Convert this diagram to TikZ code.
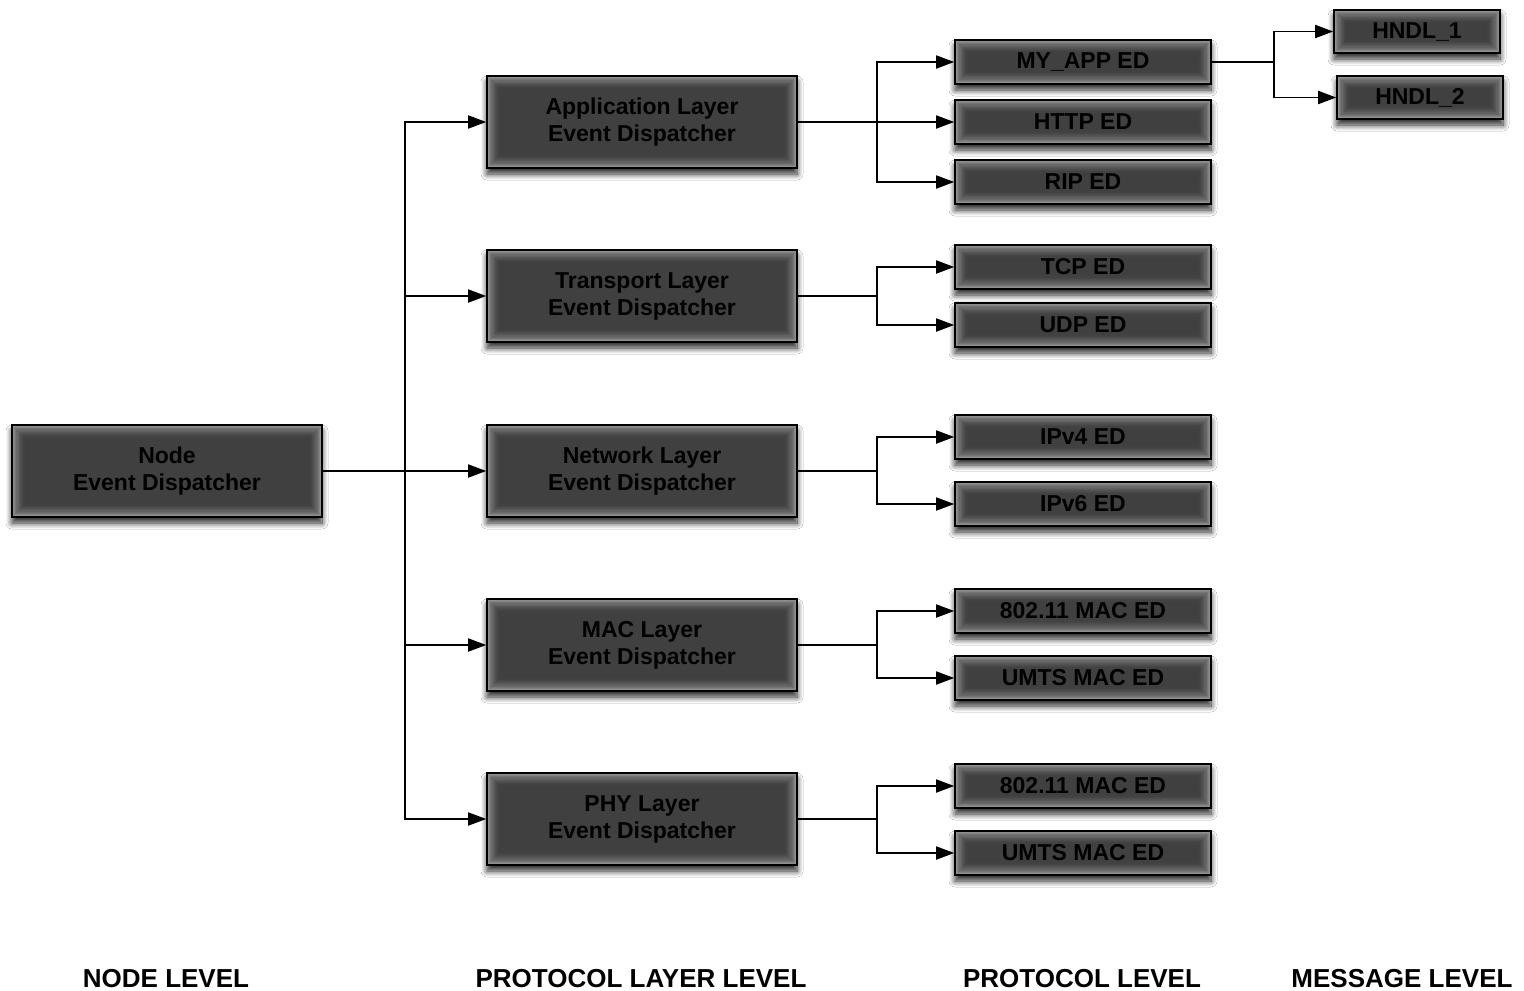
\documentclass[tikz,border=0pt]{standalone}
\usepackage{fontspec}
\setmainfont{Liberation Sans}
\usetikzlibrary{arrows.meta,shadows.blur,calc}

\tikzset{
  % dark box with a lighter glow along its inner edge
  edbox/.style={
    draw=black, line width=1.6pt, fill=black!56, text=black,
    font=\fontsize{23}{27}\selectfont\bfseries, align=center, inner sep=0pt,
    blur shadow={shadow xshift=0pt, shadow yshift=-6pt, shadow blur radius=6pt,
                 shadow blur steps=10, shadow opacity=85},
    path picture={
      \foreach \k in {0,...,12}{
        \pgfmathtruncatemacro\shade{75-36*(1-\k/12)^2}
        \fill[black!\shade]
          ($(path picture bounding box.south west)+(\k*1.1pt,\k*1.1pt)$) rectangle
          ($(path picture bounding box.north east)-(\k*1.1pt,\k*1.1pt)$);
      }
    }
  },
  layerbox/.style={edbox, minimum width=310pt, minimum height=92pt},
  protobox/.style={edbox, minimum width=256pt, minimum height=44pt},
  hndlbox/.style={edbox, minimum width=166pt, minimum height=43pt},
  link/.style={draw=black, line width=1.8pt, -{Triangle[length=18pt,width=13pt]}},
  levellabel/.style={font=\fontsize{26}{30}\selectfont\bfseries, anchor=base, text=black},
}

\begin{document}
\begin{tikzpicture}[x=1pt, y=-1pt]
  \useasboundingbox (0,0) rectangle (1524,991);
  \fill[white] (0,0) rectangle (1524,991);

  % node level
  \node[layerbox] (ned) at (167,471) {Node\\Event Dispatcher};

  % protocol layer level
  \node[layerbox] (app) at (642,122) {Application Layer\\Event Dispatcher};
  \node[layerbox] (trn) at (642,296) {Transport Layer\\Event Dispatcher};
  \node[layerbox] (net) at (642,471) {Network Layer\\Event Dispatcher};
  \node[layerbox] (mac) at (642,645) {MAC Layer\\Event Dispatcher};
  \node[layerbox] (phy) at (642,819) {PHY Layer\\Event Dispatcher};

  % protocol level
  \node[protobox] (myapp) at (1083,62)  {MY\_APP ED};
  \node[protobox] (http)  at (1083,122) {HTTP ED};
  \node[protobox] (rip)   at (1083,182) {RIP ED};
  \node[protobox] (tcp)   at (1083,267) {TCP ED};
  \node[protobox] (udp)   at (1083,325) {UDP ED};
  \node[protobox] (ipv4)  at (1083,437) {IPv4 ED};
  \node[protobox] (ipv6)  at (1083,504) {IPv6 ED};
  \node[protobox] (wmac)  at (1083,611) {802.11 MAC ED};
  \node[protobox] (umac)  at (1083,678) {UMTS MAC ED};
  \node[protobox] (wphy)  at (1083,786) {802.11 MAC ED};
  \node[protobox] (uphy)  at (1083,853) {UMTS MAC ED};

  % message level
  \node[hndlbox] (h1) at (1417,31.5) {HNDL\_1};
  \node[hndlbox] (h2) at (1420,97.5) {HNDL\_2};

  % node -> layers
  \coordinate (nbus) at (405,471);
  \foreach \t in {app,trn,net,mac,phy}
    \draw[link] (ned.east) -- (nbus) |- (\t.west);

  % layers -> protocols
  \foreach \s/\t in {app/myapp,app/http,app/rip,trn/tcp,trn/udp,net/ipv4,net/ipv6,
                     mac/wmac,mac/umac,phy/wphy,phy/uphy}
    \draw[link] (\s.east) -- ++(79,0) |- (\t.west);

  % protocol -> handlers
  \draw[link] (myapp.east) -- ++(62,0) |- (h1.west);
  \draw[link] (myapp.east) -- ++(62,0) |- (h2.west);

  % level captions
  \node[levellabel] (l1) at (166,987)  {NODE LEVEL};
  \node[levellabel] (l2) at (641,987)  {PROTOCOL LAYER LEVEL};
  \node[levellabel] (l3) at (1082,987) {PROTOCOL LEVEL};
  \node[levellabel] (l4) at (1402,987) {MESSAGE LEVEL};
\end{tikzpicture}
\end{document}
